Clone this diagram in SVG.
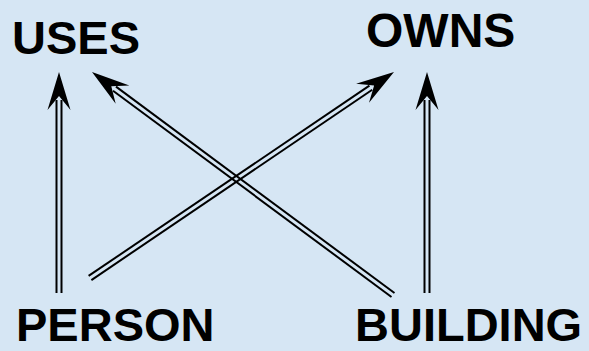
<svg xmlns="http://www.w3.org/2000/svg" width="589" height="351" viewBox="0 0 589 351">
<style>
.lbl{font-family:"Liberation Sans",Arial,sans-serif;font-weight:bold;font-size:47px;fill:#000}
.ln{stroke:#000;stroke-width:2;fill:none}
.hd{fill:#000;stroke:none}
</style>
<rect x="0" y="0" width="589" height="351" fill="#d6e6f4"/>
<g id="uses"><text class="lbl" x="12" y="54">USES</text></g>
<g id="owns"><text class="lbl" x="366" y="47" style="font-size:48px">OWNS</text></g>
<g id="person"><text class="lbl" x="16" y="341">PERSON</text></g>
<g id="building"><text class="lbl" x="355" y="341">BUILDING</text></g>
<g id="connectors">
<g id="person-uses">
<line class="ln" x1="56.5" y1="293" x2="56.5" y2="100"/>
<line class="ln" x1="61.5" y1="293" x2="61.5" y2="100"/>
<polygon class="hd" points="59,72 47.5,110 59,96 70.5,110"/>
</g>
<g id="building-owns">
<line class="ln" x1="424.5" y1="293" x2="424.5" y2="100"/>
<line class="ln" x1="429.5" y1="293" x2="429.5" y2="100"/>
<polygon class="hd" points="427,72 415.5,110 427,96 438.5,110"/>
</g>
<g id="building-uses">
<line class="ln" x1="394.49" y1="292.99" x2="115.99" y2="86.66"/>
<line class="ln" x1="391.51" y1="297.01" x2="113.01" y2="90.68"/>
<polygon class="hd" points="92,72 129.38,85.38 111.28,86.29 115.69,103.86"/>
</g>
<g id="person-owns">
<line class="ln" x1="91.40" y1="280.07" x2="372.22" y2="89.78"/>
<line class="ln" x1="88.60" y1="275.93" x2="369.42" y2="85.64"/>
<polygon class="hd" points="394,72 368.99,102.84 374.13,85.46 356.09,83.80"/>
</g>
</g>
</svg>
